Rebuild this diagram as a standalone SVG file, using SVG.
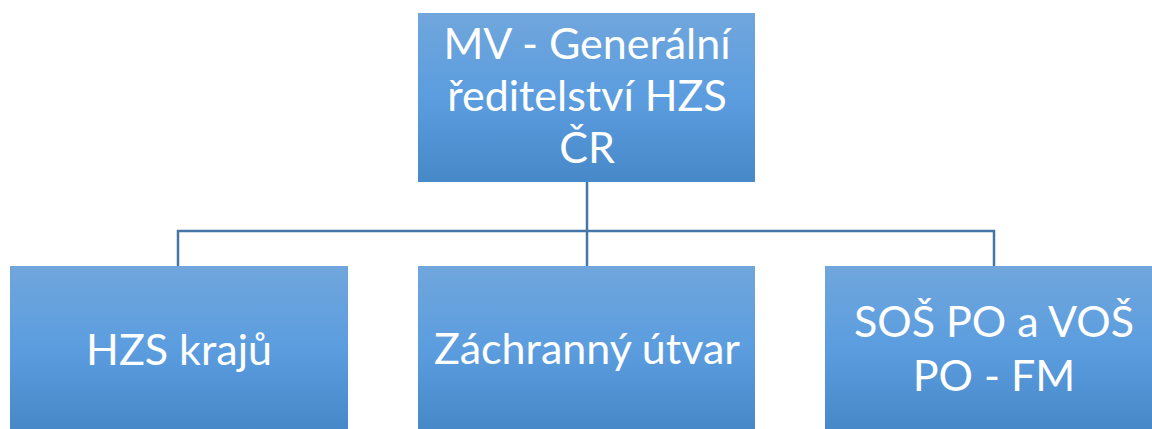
<svg xmlns="http://www.w3.org/2000/svg" width="1152" height="429" viewBox="0 0 1152 429">
<defs>
<linearGradient id="g" x1="0" y1="0" x2="0" y2="1">
<stop offset="0" stop-color="#70a6dc"/>
<stop offset="0.5" stop-color="#5b9ddf"/>
<stop offset="1" stop-color="#4788c8"/>
</linearGradient>
<style>
.box{fill:url(#g);}
.t{font-family:"Lato","Open Sans",sans-serif;font-size:43px;fill:#ffffff;text-anchor:middle;}
.c{stroke:#4676a6;stroke-width:2.5;fill:none;}
</style>
</defs>
<g id="connectors">
<path class="c" d="M587 182 V266 M178 266 V231 H994 V266"/>
</g>
<g id="top">
<rect class="box" x="418" y="13" width="337" height="169"/>
<text class="t" x="587" y="59">MV - Generální</text>
<text class="t" x="587" y="111">ředitelství HZS</text>
<text class="t" x="587" y="163">ČR</text>
</g>
<g id="hzs">
<rect class="box" x="10" y="266" width="338" height="163"/>
<text class="t" x="179" y="365">HZS krajů</text>
</g>
<g id="zachranny">
<rect class="box" x="418" y="266" width="337" height="163"/>
<text class="t" x="587" y="364">Záchranný útvar</text>
</g>
<g id="sos">
<rect class="box" x="825" y="266" width="337" height="163"/>
<text class="t" x="994" y="337">SOŠ PO a VOŠ</text>
<text class="t" x="994" y="391">PO - FM</text>
</g>
</svg>
